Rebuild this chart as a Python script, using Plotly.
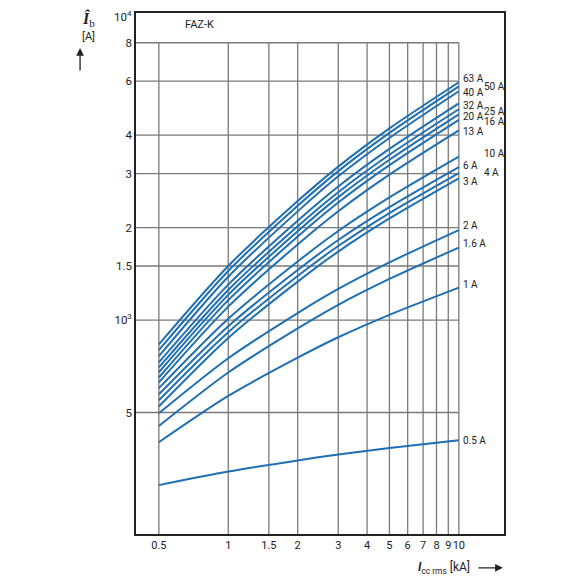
"""Let-through peak current Î_b vs prospective short-circuit current, FAZ-K."""

import math

import plotly.graph_objects as go

# prospective short-circuit current I_cc rms [kA]
X_KA = [0.5, 1, 2, 3, 5, 10]

# let-through peak current Î_b [A] per rated current, read at X_KA
IB_63A = [833, 1500, 2440, 3160, 4210, 5950]
IB_50A = [798, 1445, 2355, 3055, 4070, 5770]
IB_40A = [763, 1384, 2259, 2938, 3917, 5560]
IB_32A = [728, 1304, 2107, 2723, 3609, 5080]
IB_25A = [701, 1253, 2021, 2609, 3454, 4858]
IB_20A = [676, 1208, 1947, 2514, 3328, 4677]
IB_16A = [650, 1161, 1870, 2414, 3194, 4488]
IB_13A = [627, 1106, 1763, 2262, 2976, 4148]
IB_10A = [600, 1010, 1551, 1950, 2508, 3405]
IB_6A = [573, 955, 1455, 1823, 2333, 3150]
IB_4A = [548, 913, 1392, 1742, 2230, 3010]
IB_3A = [523, 874, 1334, 1671, 2142, 2895]
IB_2A = [497, 751, 1054, 1263, 1541, 1963]
IB_1_6A = [452, 675, 939, 1121, 1361, 1722]
IB_1A = [400, 566, 754, 879, 1040, 1275]
IB_0_5A = [290, 321, 349, 365, 383, 406]

CURVES = [
    ("63 A", IB_63A), ("50 A", IB_50A), ("40 A", IB_40A), ("32 A", IB_32A),
    ("25 A", IB_25A), ("20 A", IB_20A), ("16 A", IB_16A), ("13 A", IB_13A),
    ("10 A", IB_10A), ("6 A", IB_6A), ("4 A", IB_4A), ("3 A", IB_3A),
    ("2 A", IB_2A), ("1.6 A", IB_1_6A), ("1 A", IB_1A), ("0.5 A", IB_0_5A),
]

X_TICKS = [0.5, 1, 1.5, 2, 3, 4, 5, 6, 7, 8, 9, 10]
X_TICK_TEXT = ["0.5", "1", "1.5", "2", "3", "4", "5", "6", "7", "8", "9", "10"]
Y_TICKS = [500, 1000, 1500, 2000, 3000, 4000, 6000, 8000]
Y_TICK_TEXT = ["5", "10<sup>3</sup>", "1.5", "2", "3", "4", "6", "8"]
Y_TOP_TEXT = "10<sup>4</sup>"

# label placement next to the curve ends (value on y, column 0 = near, 1 = far)
LABEL_Y = [6130, 5783, 5505, 4979, 4795, 4598, 4449, 4127,
           3483, 3191, 3021, 2837, 2039, 1778, 1307, 406]
LABEL_COL = [0, 1, 0, 0, 1, 0, 1, 0, 1, 0, 1, 0, 0, 0, 0, 0]

X_RANGE = [0.398, 15.7]
Y_RANGE = [201, 10000]

BLUE = "#1f6fb2"
GRID = "#7a7a7a"
INK = "#222222"
FONT = "Liberation Sans Narrow, Roboto, sans-serif"


fig = go.Figure()

# grid: vertical lines stop at 8000, horizontal lines stop at 10 kA
gx, gy = [], []
for xv in X_TICKS:
    gx += [xv, xv, None]
    gy += [Y_RANGE[0], 8000, None]
for yv in Y_TICKS:
    gx += [X_RANGE[0], 10, None]
    gy += [yv, yv, None]
fig.add_trace(
    go.Scatter(x=gx, y=gy, mode="lines", line={"color": GRID, "width": 1.3},
               hoverinfo="skip", showlegend=False)
)

for name, values in CURVES:
    fig.add_trace(
        go.Scatter(x=X_KA, y=values, mode="lines", name=name,
                   line={"color": BLUE, "width": 2, "shape": "spline", "smoothing": 0.8},
                   showlegend=False)
    )

for (name, _), ly, col in zip(CURVES, LABEL_Y, LABEL_COL):
    fig.add_annotation(
        x=math.log10(10), y=math.log10(ly), xref="x", yref="y",
        text=name, showarrow=False, xanchor="left", yanchor="middle",
        xshift=2 + 21 * col, font={"size": 10, "color": INK},
    )

# top tick label drawn as an annotation so it is not hidden at the page edge
fig.add_annotation(
    x=0, y=1, xref="paper", yref="paper", text=Y_TOP_TEXT, showarrow=False,
    xanchor="right", yanchor="middle", xshift=-2, yshift=-3,
    font={"size": 11.5, "color": INK},
)

fig.add_annotation(
    x=0.128, y=0.977, xref="paper", yref="paper", text="FAZ-K",
    showarrow=False, yanchor="middle", font={"size": 11, "color": INK},
)

# y axis title with arrow
fig.add_annotation(
    x=-0.152, y=0.988, xref="paper", yref="paper", yanchor="middle",
    text="<i><b>Î</b></i><sub>b</sub>", showarrow=False,
    font={"family": "Liberation Serif, serif", "size": 16, "color": INK},
)
fig.add_annotation(
    x=-0.152, y=0.955, xref="paper", yref="paper", yanchor="middle", text="[A]",
    showarrow=False, font={"size": 11, "color": INK},
)
fig.add_annotation(
    x=-0.152, y=0.933, xref="paper", yref="paper", text="",
    showarrow=True, ax=0, ay=24, arrowhead=2, arrowsize=1.2, arrowwidth=1.3,
    arrowcolor=INK,
)

# x axis title with arrow
fig.add_annotation(
    x=0.912, y=-0.065, xref="paper", yref="paper", xanchor="right", yanchor="middle",
    text="<i><b>I</b></i><sub>cc rms</sub> [kA]", showarrow=False,
    font={"size": 12, "color": INK},
)
fig.add_annotation(
    x=0.997, y=-0.065, xref="paper", yref="paper", text="",
    showarrow=True, ax=-26, ay=0, arrowhead=2, arrowsize=1.2, arrowwidth=1.3,
    arrowcolor=INK,
)

fig.update_xaxes(
    type="log", range=[math.log10(v) for v in X_RANGE],
    tickvals=X_TICKS, ticktext=X_TICK_TEXT, showgrid=False, zeroline=False,
    showline=True, mirror=True, linecolor=INK, linewidth=1.6, ticks="",
    tickangle=0, automargin=False, tickfont={"size": 11, "color": INK},
)
fig.update_yaxes(
    type="log", range=[math.log10(v) for v in Y_RANGE],
    tickvals=Y_TICKS, ticktext=Y_TICK_TEXT, showgrid=False, zeroline=False,
    showline=True, mirror=True, linecolor=INK, linewidth=1.6, ticks="",
    automargin=False, tickfont={"size": 11.5, "color": INK},
)
# the page body adds 8 px, so the figure is 572 px and sits at (8, 8)
fig.update_layout(
    width=572, height=572,
    margin={"l": 128, "r": 76, "t": 5, "b": 46},
    plot_bgcolor="white", paper_bgcolor="white",
    font={"family": FONT, "color": INK},
    showlegend=False,
)

fig.write_html("out.html")
